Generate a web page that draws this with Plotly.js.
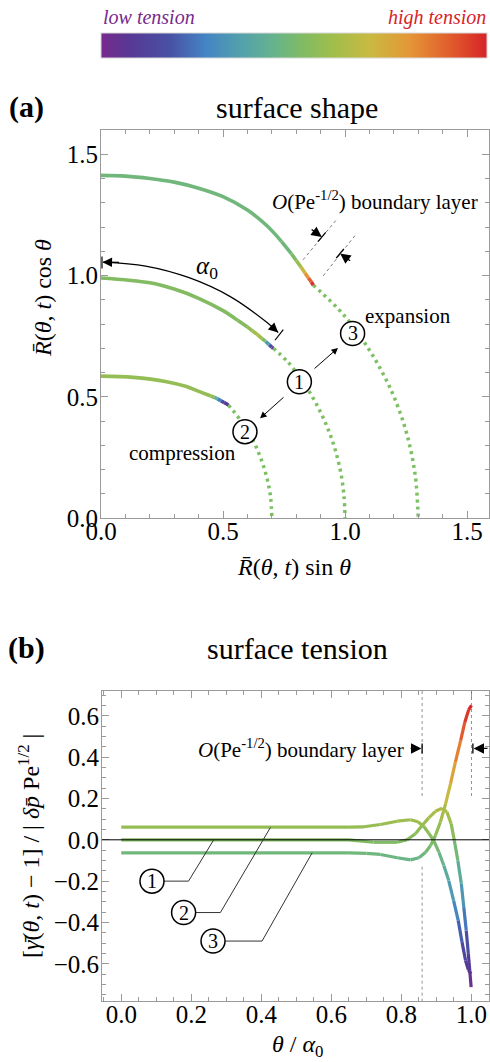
<!DOCTYPE html>
<html>
<head>
<meta charset="utf-8">
<script src="https://cdn.plot.ly/plotly-3.0.1.min.js"></script>
<style>html,body{margin:0;padding:0;background:#fff;}#chart{width:490px;height:1062px;}</style>
</head>
<body>
<div id="chart"></div>
<script>
// ---------------- data ----------------
// Panel (a): surface shape, solid curves (x = R sin θ, y = R cos θ) with tension values
const shape1X = [0, 0.2, 0.3, 0.4, 0.5, 0.56, 0.6, 0.62, 0.64, 0.66, 0.675, 0.69, 0.7, 0.706];
const shape1Y = [0.99, 0.97, 0.944, 0.906, 0.855, 0.815, 0.788, 0.772, 0.757, 0.74, 0.728, 0.714, 0.704, 0.700];
const shape1T = [0, 0, 0, 0, 0, 0, 0.02, 0.08, 0.14, 0.1, -0.1, -0.4, -0.62, -0.72];

const shape2X = [0, 0.132, 0.269, 0.35, 0.406, 0.45, 0.465, 0.478, 0.492, 0.505, 0.522];
const shape2Y = [0.585, 0.58, 0.562, 0.542, 0.52, 0.503, 0.497, 0.491, 0.483, 0.476, 0.466];
const shape2T = [0.06, 0.06, 0.06, 0.06, 0.06, 0.06, 0.0, -0.25, -0.45, -0.58, -0.65];

const shape3X = [0, 0.1, 0.2, 0.3, 0.4, 0.5, 0.6, 0.68, 0.74, 0.78, 0.80, 0.82, 0.836, 0.85, 0.862, 0.870];
const shape3Y = [1.413, 1.41, 1.40, 1.385, 1.36, 1.325, 1.27, 1.205, 1.14, 1.09, 1.062, 1.034, 1.01, 0.99, 0.973, 0.96];
const shape3T = [-0.063, -0.063, -0.063, -0.063, -0.063, -0.063, -0.063, -0.063, -0.063, -0.06, 0.02, 0.15, 0.3, 0.45, 0.58, 0.65];

// Panel (a): dotted spherical arcs
const arc1X = [0.706, 0.766, 0.819, 0.866, 0.906, 0.94, 0.966, 0.985, 0.996, 1.0];
const arc1Y = [0.700, 0.643, 0.574, 0.5, 0.423, 0.342, 0.259, 0.174, 0.087, 0];
const arc2X = [0.522, 0.573, 0.618, 0.653, 0.679, 0.695, 0.7];
const arc2Y = [0.466, 0.401, 0.329, 0.251, 0.169, 0.085, 0];
const arc3X = [0.870, 0.996, 1.102, 1.188, 1.25, 1.287, 1.3];
const arc3Y = [0.96, 0.836, 0.689, 0.529, 0.358, 0.181, 0];

// Panel (a): alpha_0 angle arc
const alphaArcX = [0.009, 0.183, 0.361, 0.528, 0.678, 0.726];
const alphaArcY = [1.055, 1.039, 0.991, 0.914, 0.808, 0.765];

// Panel (b): surface tension vs θ/α0
const ten1X = [0, 0.1, 0.2, 0.3, 0.4, 0.5, 0.6, 0.65, 0.72, 0.788, 0.816, 0.84, 0.859, 0.878, 0.897, 0.916, 0.93, 0.942, 0.951, 0.961, 0.971, 0.978, 0.985, 0.991, 0.995, 0.999];
const ten1Y = [0, 0, 0, 0, 0, 0, 0, 0, -0.012, -0.012, 0, 0.029, 0.069, 0.106, 0.138, 0.153, 0.134, 0.077, -0.003, -0.10, -0.213, -0.326, -0.439, -0.552, -0.632, -0.713];

const ten2X = [0, 0.1, 0.2, 0.3, 0.4, 0.5, 0.6, 0.65, 0.693, 0.74, 0.788, 0.826, 0.847, 0.864, 0.878, 0.893, 0.907, 0.921, 0.935, 0.949, 0.962, 0.973, 0.983, 0.991, 0.997, 1.0];
const ten2Y = [0.061, 0.061, 0.061, 0.061, 0.061, 0.061, 0.061, 0.061, 0.063, 0.074, 0.090, 0.097, 0.087, 0.064, 0.032, -0.007, -0.06, -0.124, -0.197, -0.294, -0.39, -0.495, -0.584, -0.629, -0.645, -0.648];

const ten3X = [0, 0.1, 0.2, 0.3, 0.4, 0.5, 0.6, 0.65, 0.7, 0.74, 0.788, 0.826, 0.85, 0.869, 0.883, 0.897, 0.911, 0.926, 0.94, 0.954, 0.969, 0.981, 0.992, 1.0];
const ten3Y = [-0.063, -0.063, -0.063, -0.063, -0.063, -0.063, -0.063, -0.063, -0.066, -0.071, -0.087, -0.097, -0.087, -0.06, -0.028, 0.021, 0.085, 0.174, 0.271, 0.376, 0.48, 0.569, 0.629, 0.65];

const curveLabels = ['1', '2', '3'];
const tickA = [0, 0.5, 1.0, 1.5];

// ---------------- styling ----------------
const FONT = 'Liberation Serif';
const TMIN = -0.72, TMAX = 0.65;
const STOPS = [
  [0.00, [118, 42, 140]], [0.08, [86, 58, 150]], [0.18, [72, 82, 165]],
  [0.27, [68, 132, 196]], [0.36, [82, 160, 172]], [0.45, [102, 180, 140]],
  [0.52, [128, 187, 100]], [0.60, [160, 190, 75]], [0.70, [202, 185, 65]],
  [0.80, [228, 150, 55]], [0.90, [225, 95, 45]], [1.00, [215, 35, 40]]
];
const SCALE = STOPS.map(s => [s[0], 'rgb(' + s[1].join(',') + ')']);
function colorAt(v) {
  let t = (v - TMIN) / (TMAX - TMIN);
  t = Math.max(0, Math.min(1, t));
  for (let i = 0; i < STOPS.length - 1; i++) {
    const a = STOPS[i], b = STOPS[i + 1];
    if (t <= b[0]) {
      const f = (t - a[0]) / (b[0] - a[0]);
      const c = a[1].map((ca, k) => Math.round(ca + f * (b[1][k] - ca)));
      return 'rgb(' + c.join(',') + ')';
    }
  }
  return SCALE[SCALE.length - 1][1];
}

const traces = [];
function gradientCurve(xs, ys, vs, xa, ya, width) {
  let k = 0;
  while (k + 1 < xs.length && vs[k + 1] === vs[0]) k++;
  traces.push({type: 'scatter', mode: 'lines', x: xs.slice(0, k + 1), y: ys.slice(0, k + 1),
    xaxis: xa, yaxis: ya, line: {color: colorAt(vs[0]), width: width, shape: 'spline'},
    hoverinfo: 'skip', showlegend: false});
  for (let i = k; i < xs.length - 1; i++) {
    traces.push({type: 'scatter', mode: 'lines', x: [xs[i], xs[i + 1]], y: [ys[i], ys[i + 1]],
      xaxis: xa, yaxis: ya, line: {color: colorAt((vs[i] + vs[i + 1]) / 2), width: width},
      hoverinfo: 'skip', showlegend: false});
  }
}

// dotted arcs
const DOT = 'rgb(125,192,100)';
[[arc1X, arc1Y], [arc2X, arc2Y], [arc3X, arc3Y]].forEach(a => {
  traces.push({type: 'scatter', mode: 'lines', x: a[0], y: a[1], xaxis: 'x', yaxis: 'y',
    line: {color: DOT, width: 3.5, dash: '3px,4px', shape: 'spline'}, hoverinfo: 'skip', showlegend: false});
});
gradientCurve(shape3X, shape3Y, shape3T, 'x', 'y', 3.6);
gradientCurve(shape1X, shape1Y, shape1T, 'x', 'y', 3.6);
gradientCurve(shape2X, shape2Y, shape2T, 'x', 'y', 3.6);

// alpha arc
traces.push({type: 'scatter', mode: 'lines', x: alphaArcX, y: alphaArcY, xaxis: 'x', yaxis: 'y',
  line: {color: '#000', width: 1.2, shape: 'spline'}, hoverinfo: 'skip', showlegend: false});

// panel (b) curves: colour follows the tension value
gradientCurve(ten1X, ten1Y, ten1Y, 'x2', 'y2', 3.2);
gradientCurve(ten2X, ten2Y, ten2Y, 'x2', 'y2', 3.2);
gradientCurve(ten3X, ten3Y, ten3Y, 'x2', 'y2', 3.2);

// colour bar carrier
traces.push({type: 'scatter', mode: 'markers', x: [ten1X[0]], y: [ten1Y[0]], xaxis: 'x2', yaxis: 'y2',
  marker: {color: [TMIN], cmin: TMIN, cmax: TMAX, colorscale: SCALE, opacity: 0, size: 1, showscale: true,
    colorbar: {orientation: 'h', x: 294 / 490, xanchor: 'center', y: 1 - 33 / 1062, yanchor: 'top',
      len: 386, lenmode: 'pixels', thickness: 25, thicknessmode: 'pixels', xpad: 0, ypad: 0,
      outlinewidth: 1, outlinecolor: '#d8d8d8', showticklabels: false, ticks: ''}},
  hoverinfo: 'skip', showlegend: false});

// ---------------- layout helpers ----------------
const PX = X => X / 490, PY = Y => 1 - Y / 1062;
const ann = [], shapes = [];
function text(x, y, t, size, o) {
  ann.push(Object.assign({x: x, y: y, xref: 'x', yref: 'y', text: t, showarrow: false,
    font: {family: FONT, size: size, color: '#000'}, xanchor: 'center', yanchor: 'middle'}, o || {}));
}
function arrow(xr, yr, hx, hy, tx, ty, w, s) {
  ann.push({x: hx, y: hy, ax: tx, ay: ty, xref: xr, yref: yr, axref: xr, ayref: yr, text: '',
    showarrow: true, arrowhead: 2, arrowsize: s || 1.6, arrowwidth: w, arrowcolor: '#000', standoff: 0, startstandoff: 0});
}
function line(xr, yr, x0, y0, x1, y1, color, width, dash) {
  shapes.push({type: 'line', xref: xr, yref: yr, x0: x0, y0: y0, x1: x1, y1: y1, layer: 'above',
    line: {color: color, width: width, dash: dash || 'solid'}});
}
function circ(xr, yr, cx, cy, label) {
  shapes.push({type: 'circle', xref: xr, yref: yr, xsizemode: 'pixel', ysizemode: 'pixel',
    xanchor: cx, yanchor: cy, x0: -12, x1: 12, y0: -12, y1: 12, layer: 'above',
    fillcolor: '#fff', line: {color: '#000', width: 1.5}});
  ann.push({x: cx, y: cy, xref: xr, yref: yr, text: label, showarrow: false,
    font: {family: FONT, size: 20, color: '#000'}, xanchor: 'center', yanchor: 'middle'});
}

// top legend text
ann.push({x: PX(101), y: PY(17), xref: 'paper', yref: 'paper', text: '<i>low tension</i>', showarrow: false,
  font: {family: FONT, size: 20, color: 'rgb(118,42,140)'}, xanchor: 'left', yanchor: 'middle'});
ann.push({x: PX(488), y: PY(17), xref: 'paper', yref: 'paper', text: '<i>high tension</i>', showarrow: false,
  font: {family: FONT, size: 20, color: 'rgb(215,35,40)'}, xanchor: 'right', yanchor: 'middle'});

// panel titles
ann.push({x: PX(26), y: PY(107), xref: 'paper', yref: 'paper', text: '<b>(a)</b>', showarrow: false,
  font: {family: FONT, size: 30, color: '#000'}, xanchor: 'center', yanchor: 'middle'});
ann.push({x: PX(297), y: PY(107), xref: 'paper', yref: 'paper', text: 'surface shape', showarrow: false,
  font: {family: FONT, size: 30, color: '#000'}, xanchor: 'center', yanchor: 'middle'});
ann.push({x: PX(26), y: PY(648), xref: 'paper', yref: 'paper', text: '<b>(b)</b>', showarrow: false,
  font: {family: FONT, size: 30, color: '#000'}, xanchor: 'center', yanchor: 'middle'});
ann.push({x: PX(297), y: PY(648), xref: 'paper', yref: 'paper', text: 'surface tension', showarrow: false,
  font: {family: FONT, size: 30, color: '#000'}, xanchor: 'center', yanchor: 'middle'});

// axis titles
ann.push({x: PX(294), y: PY(567), xref: 'paper', yref: 'paper', text: '<i>R\u0304</i>(<i>θ</i>, <i>t</i>) sin <i>θ</i>',
  showarrow: false, font: {family: FONT, size: 24, color: '#000'}, xanchor: 'center', yanchor: 'middle'});
ann.push({x: PX(43), y: PY(298), xref: 'paper', yref: 'paper', text: '<i>R\u0304</i>(<i>θ</i>, <i>t</i>) cos <i>θ</i>',
  showarrow: false, textangle: -90, font: {family: FONT, size: 24, color: '#000'}, xanchor: 'center', yanchor: 'middle'});
ann.push({x: PX(297), y: PY(1046), xref: 'paper', yref: 'paper', text: '<i>θ</i> / <i>α</i><sub>0</sub>',
  showarrow: false, font: {family: FONT, size: 24, color: '#000'}, xanchor: 'center', yanchor: 'middle'});
ann.push({x: PX(29), y: PY(846), xref: 'paper', yref: 'paper',
  text: '[<i>γ\u0304</i>(<i>θ</i>, <i>t</i>) − 1] / | <i>δp\u0304</i> Pe<sup>1/2</sup> |',
  showarrow: false, textangle: -90, font: {family: FONT, size: 24, color: '#000'}, xanchor: 'center', yanchor: 'middle'});

// ---- panel (a) annotations ----
text(0.434, 1.034, '<i>α</i><sub>0</sub>', 25);
arrow('x', 'y', 0.006, 1.055, 0.08, 1.054, 1.2);
arrow('x', 'y', alphaArcX[5], alphaArcY[5], 0.69, 0.798, 1.2);
line('x', 'y', 0.004, 1.029, 0.004, 1.078, '#000', 1.2);
line('x', 'y', 0.713, 0.733, 0.747, 0.777, '#000', 1.2);

text(1.123, 1.31, '<i>O</i>(Pe<sup>-1/2</sup>) boundary layer', 21);
line('x', 'y', 0.828, 1.065, 0.965, 1.23, '#555', 0.8, 'dot');
line('x', 'y', 0.911, 0.999, 1.048, 1.174, '#555', 0.8, 'dot');
arrow('x', 'y', 0.905, 1.159, 0.857, 1.194, 1.3);
arrow('x', 'y', 0.980, 1.091, 1.027, 1.056, 1.3);
line('x', 'y', 0.889, 1.140, 0.921, 1.178, '#000', 1.3);
line('x', 'y', 0.964, 1.072, 0.995, 1.110, '#000', 1.3);

text(1.258, 0.832, 'expansion', 21);
text(0.336, 0.268, 'compression', 21);
arrow('x', 'y', 0.971, 0.701, 0.869, 0.611, 1, 1.3);
arrow('x', 'y', 0.652, 0.411, 0.754, 0.503, 1, 1.3);
circ('x', 'y', 0.813, 0.562, curveLabels[0]);
circ('x', 'y', 0.59, 0.356, curveLabels[1]);
circ('x', 'y', 1.031, 0.761, curveLabels[2]);

// ---- panel (b) annotations ----
line('x2', 'y2', -0.055, 0, 1.05, 0, '#000', 1);
line('x2', 'y2', 0.859, 0.72, 0.859, 0.206, '#777', 0.8, 'dot');
line('x2', 'y2', 0.859, -0.13, 0.859, -0.78, '#777', 0.8, 'dot');
line('x2', 'y2', 1.0, 0.72, 1.0, 0.206, '#777', 0.8, 'dot');
text(0.514, 0.442, '<i>O</i>(Pe<sup>-1/2</sup>) boundary layer', 21, {xref: 'x2', yref: 'y2'});
arrow('x2', 'y2', 0.857, 0.442, 0.822, 0.442, 1.3);
arrow('x2', 'y2', 1.006, 0.442, 1.05, 0.442, 1.3);
line('x2', 'y2', 0.859, 0.418, 0.859, 0.466, '#000', 1.3);
line('x2', 'y2', 1.004, 0.418, 1.004, 0.466, '#000', 1.3);

function leader(pts) {
  shapes.push({type: 'path', xref: 'x2', yref: 'y2', layer: 'above',
    path: 'M' + pts.map(p => p[0] + ',' + p[1]).join(' L'), line: {color: '#333', width: 1}});
}
leader([[0.122, -0.2], [0.192, -0.2], [0.264, 0.0]]);
leader([[0.212, -0.352], [0.283, -0.352], [0.426, 0.06]]);
leader([[0.297, -0.49], [0.402, -0.49], [0.545, -0.063]]);
circ('x2', 'y2', 0.0877, -0.2, curveLabels[0]);
circ('x2', 'y2', 0.178, -0.352, curveLabels[1]);
circ('x2', 'y2', 0.262, -0.49, curveLabels[2]);

// ---------------- axes ----------------
function axis(extra) {
  return Object.assign({
    showline: true, linecolor: '#9a9a9a', linewidth: 1, mirror: 'allticks',
    ticks: 'inside', ticklen: 7, tickcolor: '#9a9a9a', tickwidth: 1,
    tickfont: {family: FONT, size: 25, color: '#000'}, tickformat: '.1f',
    showgrid: false, zeroline: false, fixedrange: true
  }, extra);
}
const layout = {
  width: 490, height: 1062, margin: {l: 0, r: 0, t: 0, b: 0},
  paper_bgcolor: '#fff', plot_bgcolor: '#fff', showlegend: false,
  font: {family: FONT},
  xaxis: axis({domain: [101 / 490, 489 / 490], range: [0, 1.59], anchor: 'y',
    tickmode: 'array', tickvals: tickA, ticklabelstandoff: -9,
    minor: {tickmode: 'linear', tick0: 0, dtick: 0.1, ticks: 'inside', ticklen: 4, tickcolor: '#9a9a9a'}}),
  yaxis: axis({domain: [1 - 518 / 1062, 1 - 130 / 1062], range: [0, 1.6], anchor: 'x',
    tickmode: 'array', tickvals: tickA, ticklabelstandoff: -3,
    minor: {tickmode: 'linear', tick0: 0, dtick: 0.1, ticks: 'inside', ticklen: 4, tickcolor: '#9a9a9a'}}),
  xaxis2: axis({domain: [102 / 490, 489 / 490], range: [-0.055, 1.05], anchor: 'y2',
    tickmode: 'linear', tick0: 0, dtick: 0.2, ticklabelstandoff: -9,
    minor: {tickmode: 'linear', tick0: 0, dtick: 0.05, ticks: 'inside', ticklen: 4, tickcolor: '#9a9a9a'}}),
  yaxis2: axis({domain: [1 - 1001 / 1062, 1 - 691 / 1062], range: [-0.78, 0.72], anchor: 'x2',
    tickmode: 'linear', tick0: 0, dtick: 0.2, ticklabelstandoff: -3,
    minor: {tickmode: 'linear', tick0: 0, dtick: 0.05, ticks: 'inside', ticklen: 4, tickcolor: '#9a9a9a'}}),
  annotations: ann, shapes: shapes
};
Plotly.newPlot('chart', traces, layout, {staticPlot: true, displayModeBar: false});
</script>
</body>
</html>
